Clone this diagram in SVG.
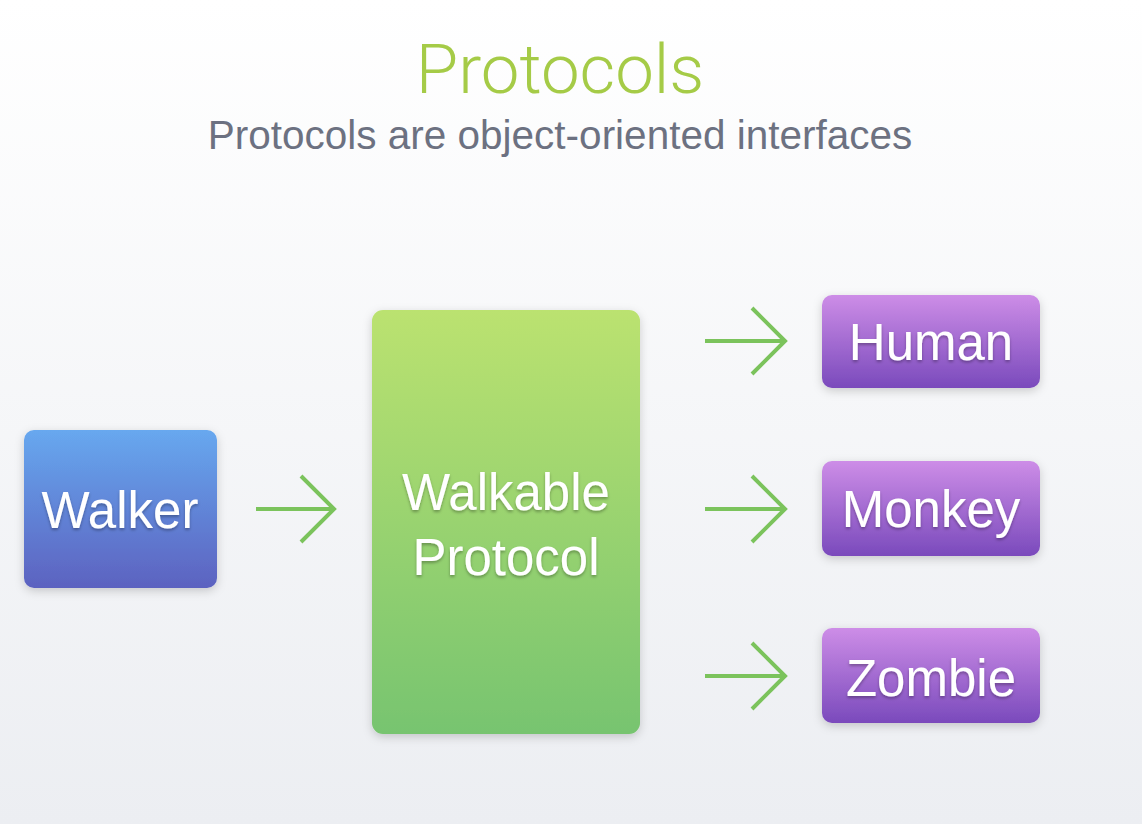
<svg xmlns="http://www.w3.org/2000/svg" width="1142" height="824" viewBox="0 0 1142 824">
<defs>
<linearGradient id="bg" x1="0" y1="0" x2="0" y2="1"><stop offset="0" stop-color="#ffffff"/><stop offset="1" stop-color="#eceef2"/></linearGradient>
<linearGradient id="gBlue" x1="0" y1="0" x2="0" y2="1"><stop offset="0" stop-color="#67a8ef"/><stop offset="1" stop-color="#5c62c0"/></linearGradient>
<linearGradient id="gGreen" x1="0" y1="0" x2="0" y2="1"><stop offset="0" stop-color="#bbe270"/><stop offset="1" stop-color="#77c46f"/></linearGradient>
<linearGradient id="gPurple" x1="0" y1="0" x2="0" y2="1"><stop offset="0" stop-color="#cd8de7"/><stop offset="1" stop-color="#7a4abc"/></linearGradient>
<filter id="shadow" x="-20%" y="-20%" width="140%" height="140%"><feDropShadow dx="0" dy="3" stdDeviation="5" flood-color="#000" flood-opacity="0.18"/></filter>
<filter id="tshadow" x="-10%" y="-20%" width="120%" height="140%"><feDropShadow dx="0" dy="2" stdDeviation="1.5" flood-color="#000" flood-opacity="0.3"/></filter>
<style>
.box{filter:url(#shadow);}
.lbl{font-family:"Liberation Sans",Arial,sans-serif;font-size:51px;fill:#ffffff;text-anchor:middle;filter:url(#tshadow);}
.arr{fill:none;stroke:#7bc35c;stroke-width:4;stroke-linecap:butt;}
</style>
</defs>
<rect width="1142" height="824" fill="url(#bg)"/>
<text x="560" y="93" text-anchor="middle" font-family="Roboto,'Liberation Sans',sans-serif" font-weight="300" font-size="69" fill="#a5cb47">Protocols</text>
<text x="560" y="149" text-anchor="middle" font-family="'Liberation Sans',Arial,sans-serif" font-size="40.5" fill="#6c7181">Protocols are object-oriented interfaces</text>
<g id="walker"><rect class="box" x="24" y="430" width="193" height="158" rx="10" fill="url(#gBlue)"/><text class="lbl" x="120" y="528">Walker</text></g>
<g id="walkable"><rect class="box" x="372" y="310" width="268" height="424" rx="11" fill="url(#gGreen)"/><text class="lbl" x="506" y="510">Walkable</text><text class="lbl" x="506" y="575">Protocol</text></g>
<g id="human"><rect class="box" x="822" y="295" width="218" height="93" rx="10" fill="url(#gPurple)"/><text class="lbl" x="931" y="360">Human</text></g>
<g id="monkey"><rect class="box" x="822" y="461" width="218" height="95" rx="10" fill="url(#gPurple)"/><text class="lbl" x="931" y="527">Monkey</text></g>
<g id="zombie"><rect class="box" x="822" y="628" width="218" height="95" rx="10" fill="url(#gPurple)"/><text class="lbl" x="931" y="696">Zombie</text></g>
<g id="connectors">
<path class="arr" d="M256 509 H334 M301 476 L334 509 L301 542"/>
<path class="arr" d="M705 341 H785 M752 308 L785 341 L752 374"/>
<path class="arr" d="M705 509 H785 M752 476 L785 509 L752 542"/>
<path class="arr" d="M705 676 H785 M752 643 L785 676 L752 709"/>
</g>
</svg>
